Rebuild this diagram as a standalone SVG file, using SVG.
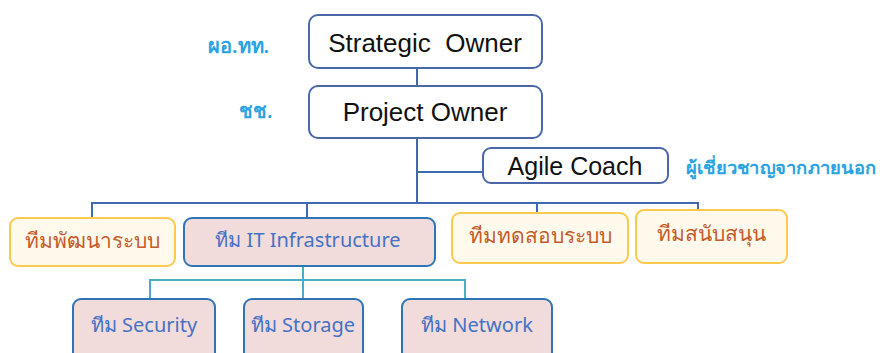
<svg xmlns="http://www.w3.org/2000/svg" width="883" height="353" viewBox="0 0 883 353">
<style>
.top{fill:#ffffff;stroke:#4a68a8;stroke-width:2}
.org{fill:#fffaec;stroke:#ffc84f;stroke-width:2}
.it{fill:#f2dcdb;stroke:#2e75b6;stroke-width:2}
.en{font-family:"Liberation Sans","Noto Sans",sans-serif;font-size:26px;fill:#111111;text-anchor:middle}
.lbl{font-family:"Noto Sans","Liberation Sans",sans-serif;font-size:20px;font-weight:600;fill:#2aa3e3}
.ot{font-family:"Noto Sans","Liberation Sans",sans-serif;font-size:21px;fill:#c65a28;text-anchor:middle}
.itt{font-family:"Noto Sans","Liberation Sans",sans-serif;font-size:20px;fill:#4472c4;text-anchor:middle}
.c1{fill:none;stroke:#4169b0;stroke-width:2}
.c2{fill:none;stroke:#4bacc6;stroke-width:2}
</style>
<g id="connectors">
<path class="c1" d="M417 68 V86"/>
<path class="c1" d="M417 138 V203"/>
<path class="c1" d="M417 172 H483"/>
<path class="c1" d="M92 218 V203 H698 V211"/>
<path class="c1" d="M307 203 V218"/>
<path class="c1" d="M537 203 V213"/>
<path class="c2" d="M303 266 V299"/>
<path class="c2" d="M150 299 V280 H465 V299"/>
</g>
<g id="label-director"><text class="lbl" x="208" y="53">ผอ.ทท.</text></g>
<g id="label-chief"><text class="lbl" x="239" y="118">ชช.</text></g>
<g id="label-expert"><text class="lbl" x="686" y="174" style="font-size:18px" textLength="190" lengthAdjust="spacingAndGlyphs">ผู้เชี่ยวชาญจากภายนอก</text></g>
<g id="strategic-owner">
<rect class="top" x="309" y="15" width="233" height="53" rx="9"/>
<text class="en" x="425" y="52" xml:space="preserve">Strategic  Owner</text>
</g>
<g id="project-owner">
<rect class="top" x="309" y="86" width="233" height="52" rx="9"/>
<text class="en" x="425" y="121">Project Owner</text>
</g>
<g id="agile-coach">
<rect class="top" x="483" y="148" width="185" height="35" rx="8"/>
<text class="en" x="575" y="175" style="font-size:25px">Agile Coach</text>
</g>
<g id="team-dev">
<rect class="org" x="10" y="218" width="165" height="48" rx="8"/>
<text class="ot" x="92" y="248">ทีมพัฒนาระบบ</text>
</g>
<g id="team-it">
<rect class="it" x="184" y="218" width="251" height="48" rx="8"/>
<text class="itt" x="308" y="247">ทีม IT Infrastructure</text>
</g>
<g id="team-test">
<rect class="org" x="452" y="213" width="176" height="50" rx="8"/>
<text class="ot" x="540" y="243">ทีมทดสอบระบบ</text>
</g>
<g id="team-support">
<rect class="org" x="636" y="210" width="151" height="53" rx="8"/>
<text class="ot" x="711" y="241">ทีมสนับสนุน</text>
</g>
<g id="team-security">
<rect class="it" x="73" y="299" width="142" height="70" rx="8"/>
<text class="itt" x="144" y="332">ทีม Security</text>
</g>
<g id="team-storage">
<rect class="it" x="244" y="299" width="119" height="70" rx="8"/>
<text class="itt" x="303" y="332">ทีม Storage</text>
</g>
<g id="team-network">
<rect class="it" x="402" y="299" width="150" height="70" rx="8"/>
<text class="itt" x="477" y="332">ทีม Network</text>
</g>
</svg>
